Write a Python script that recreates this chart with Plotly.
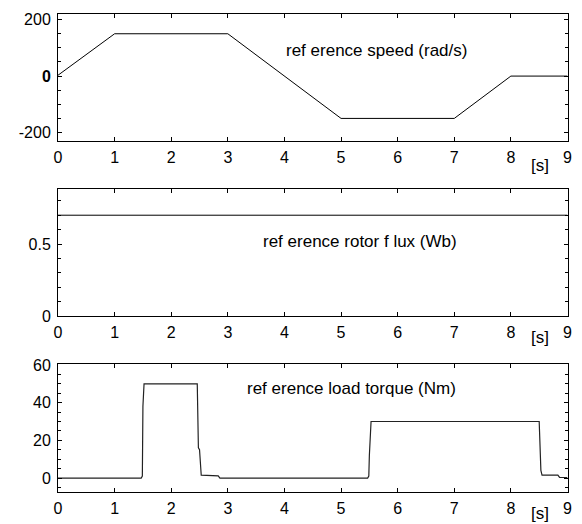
import plotly.graph_objects as go

# ---- data ----
speed_t = [0, 1, 3, 5, 7, 8, 9]
speed_v = [3, 150, 150, -150, -150, 0, 0]

flux_t = [0, 9]
flux_v = [0.7, 0.7]

torque_t = [0, 1.47, 1.49, 1.50, 1.52, 2.46, 2.48, 2.50, 2.53, 2.83, 2.86,
            5.47, 5.49, 5.50, 5.53, 8.50, 8.53, 8.55, 8.83, 8.86, 9.0]
torque_v = [0, 0, 1, 38, 50, 50, 16, 15, 1.5, 1.2, 0,
            0, 1, 12, 30, 30, 4, 1.5, 1.5, 0.3, 0.3]

x_ticks = [0, 1, 2, 3, 4, 5, 6, 7, 8, 9]
labels = ["ref erence speed (rad/s)", "ref erence rotor f lux (Wb)", "ref erence load torque (Nm)"]

W, H = 582, 524
FONT = "Liberation Sans, Arial, sans-serif"

fig = go.Figure()
fig.add_trace(go.Scatter(x=speed_t, y=speed_v, mode="lines", line=dict(color="black", width=1),
                         xaxis="x", yaxis="y", showlegend=False))
fig.add_trace(go.Scatter(x=flux_t, y=flux_v, mode="lines", line=dict(color="black", width=1),
                         xaxis="x2", yaxis="y2", showlegend=False))
fig.add_trace(go.Scatter(x=torque_t, y=torque_v, mode="lines", line=dict(color="#222", width=1.2),
                         xaxis="x3", yaxis="y3", showlegend=False))

xdom = [58 / W, 567.5 / W]
ydoms = [
    [1 - 141 / H, 1 - 14 / H],
    [1 - 316 / H, 1 - 189 / H],
    [1 - 492 / H, 1 - 364 / H],
]

def xaxis(anchor, dom):
    return dict(domain=xdom, anchor=anchor, range=[0, 9], tickvals=x_ticks,
                ticks="inside", ticklen=4, tickcolor="black", showline=True, linecolor="black",
                linewidth=1, mirror="ticks", showgrid=False, zeroline=False,
                tickfont=dict(family=FONT, size=16, color="black"), automargin=False,
                ticklabelstandoff=2)

def yaxis(anchor, dom, rng, tickvals, ticktext, minor_dtick):
    return dict(domain=dom, anchor=anchor, range=rng, tickvals=tickvals, ticktext=ticktext,
                ticks="inside", ticklen=4, tickcolor="black", showline=True, linecolor="black",
                linewidth=1, mirror="ticks", showgrid=False, zeroline=False,
                minor=dict(ticks="inside", ticklen=3, dtick=minor_dtick, tick0=0, tickcolor="black"),
                tickfont=dict(family=FONT, size=16, color="black"), automargin=False,
                ticklabelstandoff=3)

fig.update_layout(
    width=W, height=H, autosize=False,
    margin=dict(l=0, r=0, t=0, b=0),
    paper_bgcolor="white", plot_bgcolor="white",
    xaxis=xaxis("y", xdom),
    xaxis2=xaxis("y2", xdom),
    xaxis3=xaxis("y3", xdom),
    yaxis=yaxis("x", ydoms[0], [-230, 220], [-200, 0, 200], ["-200", "<b>0</b>", "200"], 50),
    yaxis2=yaxis("x2", ydoms[1], [0, 0.882], [0, 0.5], ["0", "0.5"], 0.1),
    yaxis3=yaxis("x3", ydoms[2], [-7.4, 60.5], [0, 20, 40, 60], ["0", "20", "40", "60"], 5),
)

ann_font = dict(family=FONT, size=17, color="black")
fig.add_annotation(x=5.62, y=92, xref="x", yref="y", text=labels[0], showarrow=False, font=ann_font)
fig.add_annotation(x=5.34, y=0.52, xref="x2", yref="y2", text=labels[1], showarrow=False, font=ann_font)
fig.add_annotation(x=5.18, y=47.7, xref="x3", yref="y3", text=labels[2], showarrow=False, font=ann_font)

for yc in [166, 337, 513]:
    fig.add_annotation(x=540 / W, y=1 - yc / H, xref="paper", yref="paper", text="[s]",
                       showarrow=False, font=ann_font, xanchor="center", yanchor="middle")

fig.write_html("out.html")
